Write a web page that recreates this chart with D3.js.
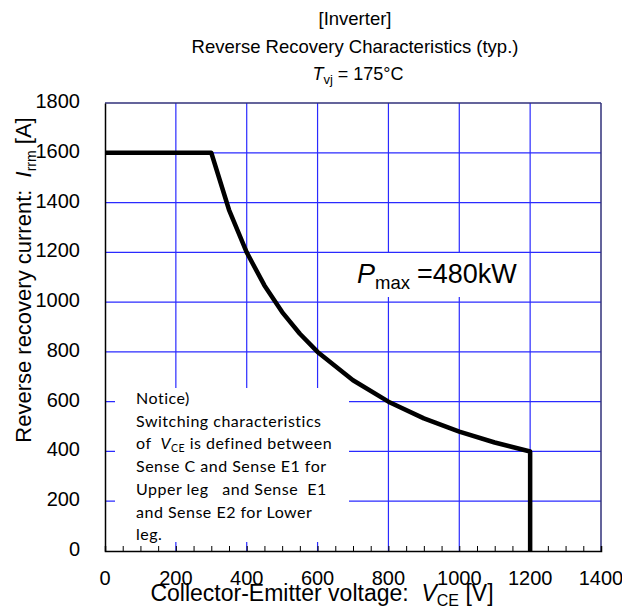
<!DOCTYPE html>
<html>
<head>
<meta charset="utf-8">
<script src="https://cdn.jsdelivr.net/npm/d3@7"></script>
<style>
  html, body { margin: 0; padding: 0; background: #fff; }
  svg { display: block; }
  text { font-family: "Liberation Sans", Arial, sans-serif; fill: #000; white-space: pre; }
</style>
</head>
<body>
<svg id="chart" width="622" height="612"></svg>
<script>
// ---- data ----
const voltage = [0, 300, 350, 400, 450, 500, 550, 600, 700, 800, 900, 1000, 1100, 1200, 1200];
const current = [1600, 1600, 1371, 1200, 1067, 960, 873, 800, 686, 600, 533, 480, 436, 400, 0];
const xTicks = [0, 200, 400, 600, 800, 1000, 1200, 1400];
const yTicks = [0, 200, 400, 600, 800, 1000, 1200, 1400, 1600, 1800];
const xMinorTicks = d3.range(0, 1401, 50);
const titleLines = ["[Inverter]", "Reverse Recovery Characteristics (typ.)"];
const noticeLines = ["Notice)", "Switching characteristics", "of  |V|CE| is defined between", "Sense C and Sense E1 for", "Upper leg   and Sense  E1", "and Sense E2 for Lower", "leg."];

// ---- layout ----
const svg = d3.select("#chart");
const L = 105, R = 601, T = 103, B = 551;
const x = d3.scaleLinear().domain([0, 1400]).range([L, R]);
const y = d3.scaleLinear().domain([0, 1800]).range([B, T]);
const gridColor = "#2a2aff";

// grid
const g = svg.append("g");
g.selectAll("line.vg").data(xTicks.filter(d => d > 0 && d < 1400)).join("line")
  .attr("x1", d => x(d)).attr("x2", d => x(d)).attr("y1", T).attr("y2", B)
  .attr("stroke", gridColor).attr("stroke-width", 1.2);
g.selectAll("line.hg").data(yTicks.filter(d => d > 0 && d < 1800)).join("line")
  .attr("x1", L).attr("x2", R).attr("y1", d => y(d)).attr("y2", d => y(d))
  .attr("stroke", gridColor).attr("stroke-width", 1.2);

// white boxes covering the grid
svg.append("rect").attr("x", 115).attr("y", 388).attr("width", 234).attr("height", 154).attr("fill", "#fff");
svg.append("rect").attr("x", 333).attr("y", 253).attr("width", 194).attr("height", 44).attr("fill", "#fff");

// frame: top/right navy, left/bottom black
svg.append("line").attr("x1", L).attr("x2", R).attr("y1", T).attr("y2", T).attr("stroke", "#30307a").attr("stroke-width", 1.5);
svg.append("line").attr("x1", R).attr("x2", R).attr("y1", T).attr("y2", B).attr("stroke", "#30307a").attr("stroke-width", 1.5);

// axes
const xAxis = d3.axisBottom(x).tickValues(xMinorTicks).tickSize(-5).tickFormat("");
svg.append("g").attr("transform", `translate(0,${B})`).call(xAxis)
  .call(s => s.select(".domain").attr("stroke", "#000").attr("stroke-width", 1.5))
  .call(s => s.selectAll(".tick line").attr("stroke", "#000"));
const yAxis = d3.axisLeft(y).tickValues(yTicks).tickSize(0).tickFormat("");
svg.append("g").attr("transform", `translate(${L},0)`).call(yAxis)
  .call(s => s.select(".domain").attr("stroke", "#000").attr("stroke-width", 1.5));

// tick labels
svg.append("g").selectAll("text").data(xTicks).join("text")
  .attr("x", d => x(d)).attr("y", 585).attr("text-anchor", "middle")
  .attr("font-size", 20).text(d => d);
svg.append("g").selectAll("text").data(yTicks).join("text")
  .attr("x", 80).attr("y", d => y(d) + 5).attr("text-anchor", "end")
  .attr("font-size", 20).text(d => d);

// curve
const pts = voltage.map((v, i) => [v, current[i]]);
svg.append("path").datum(pts)
  .attr("d", d3.line().x(d => x(d[0])).y(d => y(d[1])))
  .attr("fill", "none").attr("stroke", "#000").attr("stroke-width", 4.5)
  .attr("stroke-linejoin", "round");

// titles
titleLines.forEach((t, i) => {
  svg.append("text").attr("x", 355).attr("y", 25 + i * 28).attr("text-anchor", "middle")
    .attr("font-size", 18.5).text(t);
});
const tv = svg.append("text").attr("x", 358).attr("y", 80).attr("text-anchor", "middle").attr("font-size", 18);
tv.append("tspan").attr("font-style", "italic").text("T");
tv.append("tspan").attr("font-size", 13).attr("dy", 4).text("vj");
tv.append("tspan").attr("dy", -4).text(" = 175°C");

// x title
const xt = svg.append("text").attr("x", 322).attr("y", 601).attr("text-anchor", "middle").attr("font-size", 23);
xt.append("tspan").text("Collector-Emitter voltage:  ");
xt.append("tspan").attr("font-style", "italic").text("V");
xt.append("tspan").attr("font-size", 16).attr("dy", 5).text("CE");
xt.append("tspan").attr("dy", -5).text(" [V]");

// y title
const yt = svg.append("text").attr("transform", "translate(31,280) rotate(-90)")
  .attr("text-anchor", "middle").attr("font-size", 22);
yt.append("tspan").text("Reverse recovery current:  ");
yt.append("tspan").attr("font-style", "italic").text("I");
yt.append("tspan").attr("font-size", 14).attr("dy", 5).text("rrm");
yt.append("tspan").attr("dy", -5).text(" [A]");

// Pmax label
const pm = svg.append("text").attr("x", 357).attr("y", 283).attr("font-size", 27);
pm.append("tspan").attr("font-style", "italic").text("P");
pm.append("tspan").attr("font-size", 18.5).attr("dy", 6).text("max");
pm.append("tspan").attr("x", 417).attr("dy", -6).text("=480kW");

// notice
const nt = svg.append("g");
noticeLines.forEach((line, i) => {
  const t = nt.append("text").attr("x", 136).attr("y", 404 + i * 22.7)
    .attr("font-size", 16).attr("letter-spacing", 0.5)
    .style("font-family", "Lato, 'Open Sans', sans-serif");
  const parts = line.split("|");
  if (parts.length === 1) { t.text(line); }
  else {
    t.append("tspan").text(parts[0]);
    t.append("tspan").attr("font-style", "italic").text(parts[1]);
    t.append("tspan").attr("font-size", 10.5).attr("dy", 3).text(parts[2]);
    t.append("tspan").attr("dy", -3).text(parts[3]);
  }
});
</script>
</body>
</html>
